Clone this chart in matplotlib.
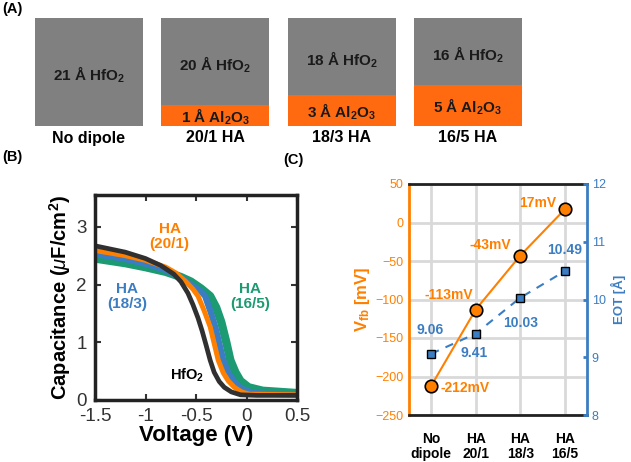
import matplotlib.pyplot as plt
from matplotlib.patches import Rectangle

plt.rcParams['font.family'] = ['Liberation Sans', 'DejaVu Sans']
plt.rcParams['mathtext.fontset'] = 'custom'
plt.rcParams['mathtext.rm'] = 'Liberation Sans'
plt.rcParams['mathtext.it'] = 'Liberation Sans:italic'
plt.rcParams['mathtext.bf'] = 'Liberation Sans:bold'

ORANGE = '#FF8000'
ORANGE_A = '#FF6A10'
BLUE = '#3B7DC2'
GREEN = '#1C9A72'
BLACK = '#303030'

# panel A stacks
stack_names = ['No dipole', '20/1 HA', '18/3 HA', '16/5 HA']
hfo2_thk = [21, 20, 18, 16]
al2o3_thk = [0, 1, 3, 5]

# panel B C-V curves (V, uF/cm2)
v_hfo2 = [-1.5, -1.2, -1.0, -0.85, -0.72, -0.65, -0.58, -0.53, -0.48, -0.44, -0.4, -0.36, -0.32, -0.27, -0.22, -0.15, -0.06, 0.1, 0.5]
c_hfo2 = [2.67, 2.56, 2.45, 2.33, 2.18, 2.05, 1.85, 1.65, 1.42, 1.2, 0.95, 0.69, 0.48, 0.32, 0.22, 0.14, 0.09, 0.08, 0.08]
v_201 = [-1.5, -1.2, -1.0, -0.8, -0.7, -0.6, -0.53, -0.48, -0.42, -0.36, -0.32, -0.28, -0.23, -0.18, -0.12, -0.05, 0.03, 0.5]
c_201 = [2.59, 2.5, 2.42, 2.3, 2.2, 2.05, 1.92, 1.8, 1.55, 1.27, 0.98, 0.69, 0.47, 0.33, 0.22, 0.14, 0.1, 0.09]
v_183 = [-1.5, -1.2, -1.0, -0.8, -0.68, -0.55, -0.45, -0.41, -0.36, -0.31, -0.27, -0.23, -0.18, -0.12, -0.05, 0.05, 0.15, 0.5]
c_183 = [2.53, 2.44, 2.36, 2.25, 2.15, 2.0, 1.88, 1.8, 1.55, 1.27, 0.98, 0.69, 0.47, 0.32, 0.2, 0.13, 0.11, 0.1]
v_165 = [-1.5, -1.2, -1.0, -0.8, -0.65, -0.55, -0.45, -0.36, -0.3, -0.25, -0.2, -0.16, -0.11, -0.06, 0.02, 0.16, 0.5]
c_165 = [2.45, 2.37, 2.3, 2.22, 2.13, 2.05, 1.93, 1.8, 1.6, 1.35, 1.0, 0.69, 0.48, 0.33, 0.22, 0.16, 0.12]

# panel C
cats = ['No\ndipole', 'HA\n20/1', 'HA\n18/3', 'HA\n16/5']
vfb = [-212, -113, -43, 17]
eot = [9.06, 9.41, 10.03, 10.49]

fig = plt.figure(figsize=(6.31, 4.62), dpi=100)
W, H = 631, 462

# ---- panel A, drawn in pixel coordinates
axA = fig.add_axes([0, 0, 1, 1])
axA.set_xlim(0, W)
axA.set_ylim(H, 0)
axA.axis('off')
box = 108
top = 18
for i in range(4):
    x0 = 35 + i * 126.3
    axA.add_patch(Rectangle((x0, top), box, box, color='#808080', lw=0))
    t = al2o3_thk[i]
    oh = 0
    if t > 0:
        oh = box * (t + 3) / 21
        axA.add_patch(Rectangle((x0, top + box - oh), box, oh, color=ORANGE_A, lw=0))
        axA.text(x0 + box / 2, top + box - oh / 2 + 1, r'%d Å Al$_\mathbf{2}$O$_\mathbf{3}$' % t,
                 ha='center', va='center', fontsize=11, fontweight='bold', color='#1a1a1a')
    axA.text(x0 + box / 2, top + (box - oh) / 2 + 3, r'%d Å HfO$_\mathbf{2}$' % hfo2_thk[i],
             ha='center', va='center', fontsize=11, fontweight='bold', color='#1a1a1a')
    axA.text(x0 + box / 2, top + box + 12, stack_names[i],
             ha='center', va='center', fontsize=11.5, fontweight='bold', color='black')
axA.text(2, 9, '(A)', ha='left', va='center', fontsize=10.5, fontweight='bold')
axA.text(2, 157, '(B)', ha='left', va='center', fontsize=10.5, fontweight='bold')
axA.text(283, 160, '(C)', ha='left', va='center', fontsize=10.5, fontweight='bold')

# ---- panel B
axB = fig.add_axes([95 / W, 62 / H, 202 / W, 205 / H])
axB.plot(v_165, c_165, color=GREEN, lw=6, solid_capstyle='butt', solid_joinstyle='round')
axB.plot(v_183, c_183, color=BLUE, lw=4.5, solid_capstyle='butt', solid_joinstyle='round')
axB.plot(v_201, c_201, color=ORANGE, lw=3.6, solid_capstyle='butt', solid_joinstyle='round')
axB.plot(v_hfo2, c_hfo2, color=BLACK, lw=3.4, solid_capstyle='butt', solid_joinstyle='round')
axB.set_xlim(-1.5, 0.5)
axB.set_ylim(0, 3.55)
axB.set_xticks([-1.5, -1, -0.5, 0, 0.5])
axB.set_xticklabels(['-1.5', '-1', '-0.5', '0', '0.5'])
axB.set_yticks([0, 1, 2, 3])
axB.tick_params(direction='in', top=True, right=True, labelsize=13.5, length=4, width=1.5,
                colors='#333333', pad=6)
for s in axB.spines.values():
    s.set_linewidth(2.5)
    s.set_color('#222222')
axB.set_xlabel('Voltage (V)', fontsize=16, fontweight='bold', labelpad=0)
axB.set_ylabel(r'Capacitance ($\mu$F/cm$^\mathbf{2}$)', fontsize=14.5, fontweight='bold', labelpad=2)
axB.text(-0.76, 2.83, 'HA\n(20/1)', color=ORANGE, ha='center', va='center', fontsize=11,
         fontweight='bold', linespacing=1.1)
axB.text(-1.18, 1.79, 'HA\n(18/3)', color=BLUE, ha='center', va='center', fontsize=11,
         fontweight='bold', linespacing=1.1)
axB.text(0.035, 1.79, 'HA\n(16/5)', color=GREEN, ha='center', va='center', fontsize=11,
         fontweight='bold', linespacing=1.1)
axB.text(-0.59, 0.43, r'HfO$_\mathbf{2}$', color='black', ha='center', va='center', fontsize=10.5,
         fontweight='bold')

# ---- panel C
axC = fig.add_axes([409 / W, 47 / H, 178 / W, 231 / H])
x = list(range(len(cats)))
axC.set_xlim(-0.5, 3.5)
axC.set_ylim(-250, 50)
axC.set_yticks(range(-250, 51, 50))
axC.set_xticks(x)
axC.set_xticklabels(cats, fontsize=10, fontweight='bold', linespacing=1.1)
axC.grid(True, color='#D9D9D9', lw=2)
axC.set_axisbelow(True)
axC.tick_params(axis='y', colors=ORANGE, labelsize=9, direction='in', length=0, pad=4)
axC.tick_params(axis='x', length=0, pad=12)
axC.spines['left'].set_color(ORANGE)
axC.spines['right'].set_visible(False)
for s in ['top', 'bottom']:
    axC.spines[s].set_color('#222222')
for s in axC.spines.values():
    s.set_linewidth(2)
axC.set_ylabel(r'V$_\mathbf{fb}$ [mV]', color=ORANGE, fontsize=12, fontweight='bold', labelpad=2)

axC2 = axC.twinx()
axC2.set_ylim(8, 12)
axC2.set_yticks([8, 9, 10, 11, 12])
axC2.tick_params(axis='y', colors=BLUE, labelsize=9, direction='in', length=3, width=2)
axC2.spines['right'].set_color(BLUE)
axC2.spines['right'].set_linewidth(2)
for s in ['left', 'top', 'bottom']:
    axC2.spines[s].set_visible(False)
axC2.set_ylabel('EOT [Å]', color=BLUE, fontsize=9.5, fontweight='bold', labelpad=4)
axC2.plot(x, eot, color=BLUE, lw=1.5, ls=(0, (4, 3.5)), marker='s', ms=5.5,
          mfc=BLUE, mec='black', mew=1, zorder=3)

# orange series on another twin so it sits on top
axV = axC.twinx()
axV.set_ylim(-250, 50)
axV.axis('off')
axV.plot(x, vfb, color=ORANGE, lw=1.5, marker='o', ms=9, mfc=ORANGE, mec='black',
         mew=1.2, zorder=4)

lab = dict(color=ORANGE, fontsize=10, fontweight='bold')
axV.text(2.8, 25, '17mV', ha='right', va='center', **lab)
axV.text(1.8, -29, '-43mV', ha='right', va='center', **lab)
axV.text(0.93, -94, '-113mV', ha='right', va='center', **lab)
axV.text(0.2, -215, '-212mV', ha='left', va='center', **lab)
blab = dict(color=BLUE, fontsize=10, fontweight='bold', ha='center', va='center')
axC2.text(-0.02, 9.47, '9.06', **blab)
axC2.text(0.96, 9.07, '9.41', **blab)
axC2.text(2.0, 9.59, '10.03', **blab)
axC2.text(3.0, 10.86, '10.49', **blab)

fig.savefig('out.png', dpi=100)
